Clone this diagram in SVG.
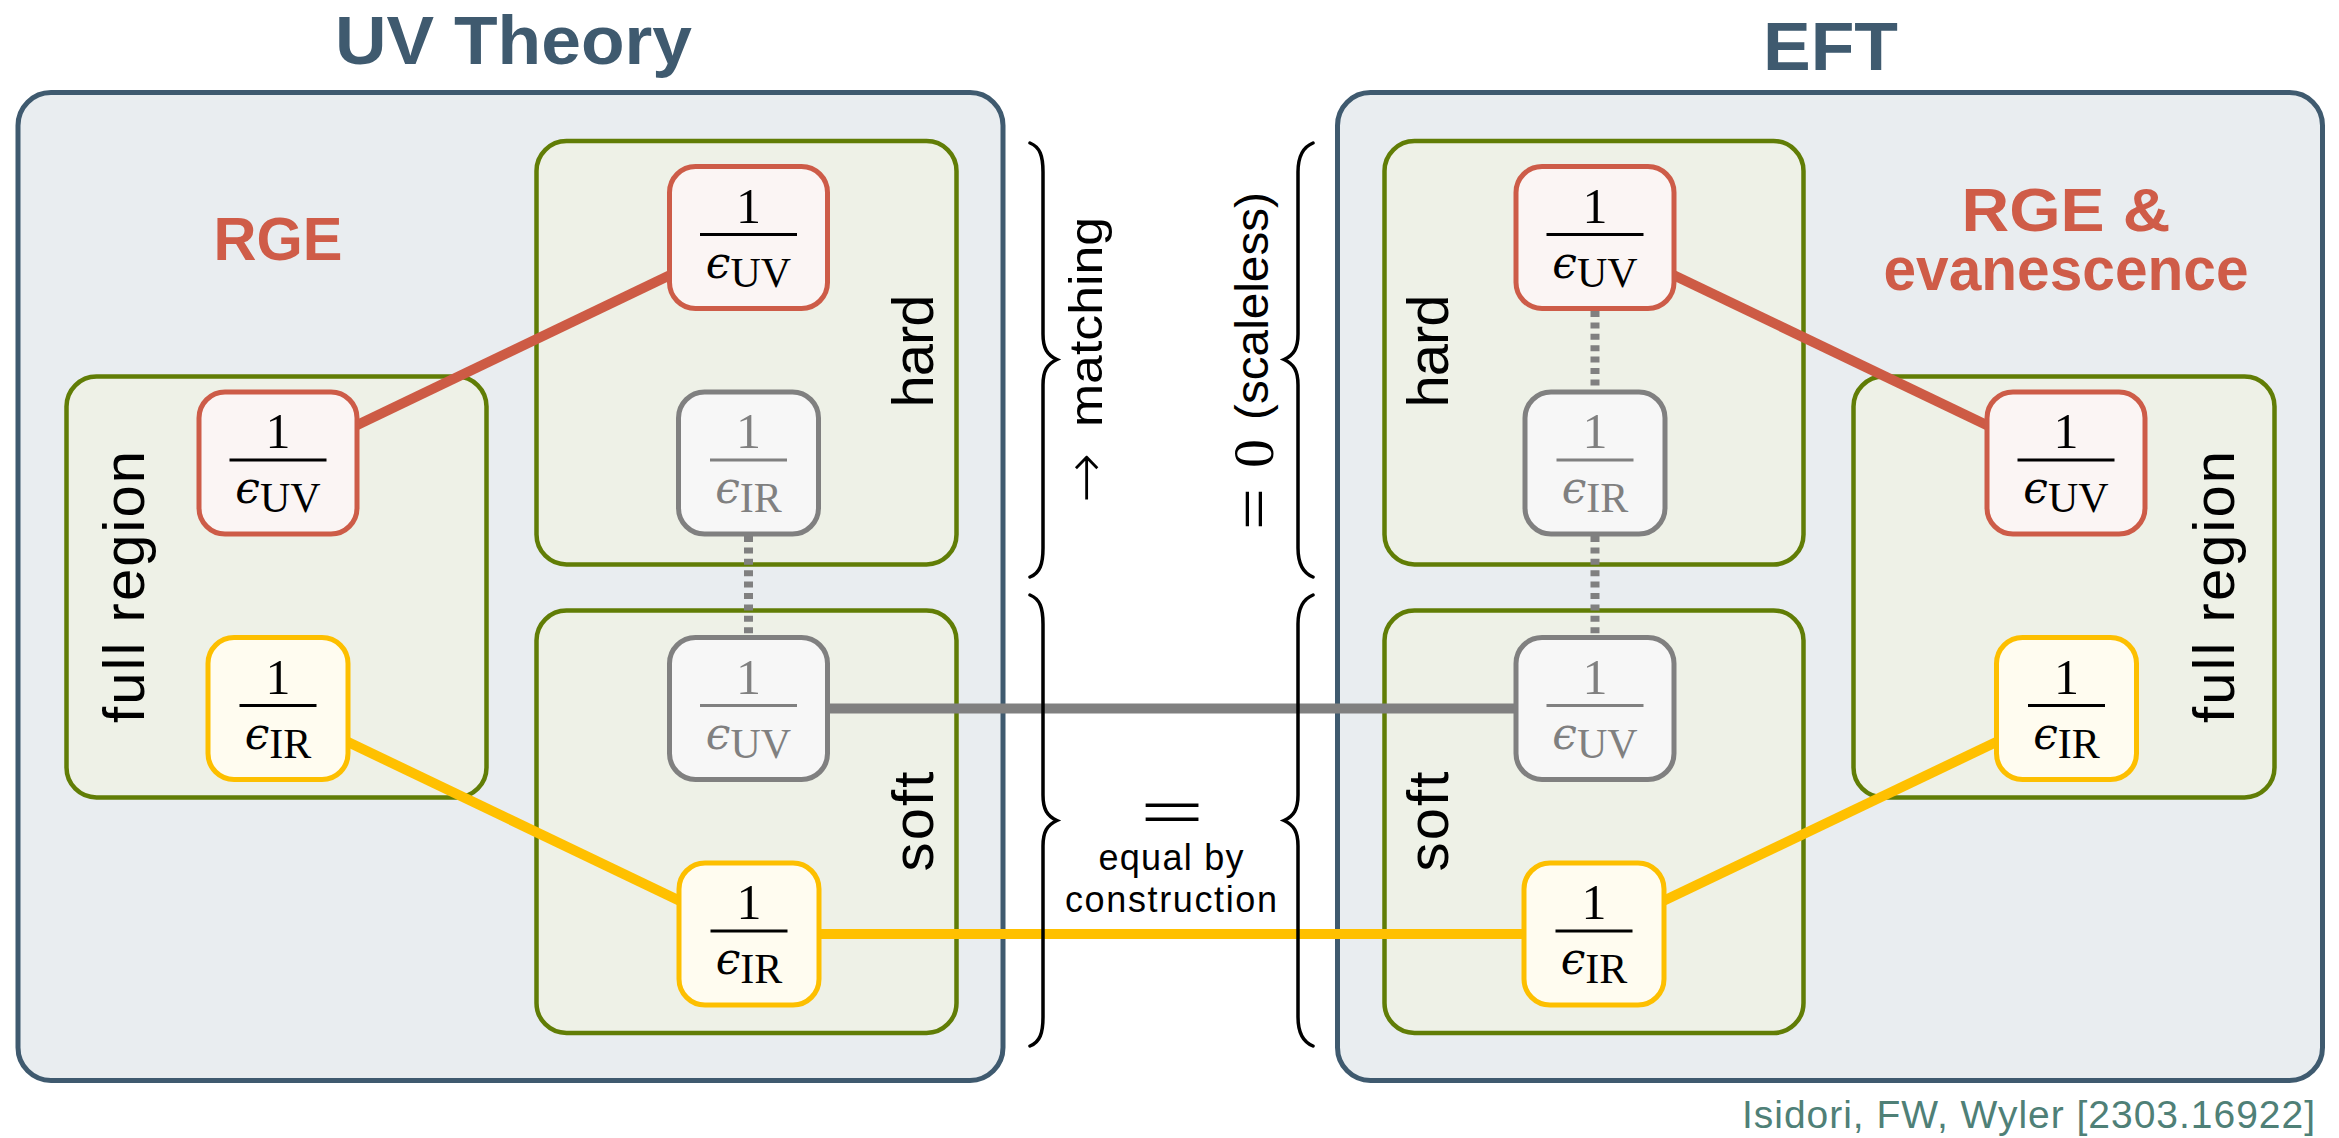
<svg xmlns="http://www.w3.org/2000/svg" width="2339" height="1138" viewBox="0 0 2339 1138">
<style>
.outer{fill:#e9edf0;stroke:#3f5a6f;stroke-width:5}
.region{fill:#eef1e7;stroke:#617d06;stroke-width:4.5}
.nred{fill:#fbf5f4;stroke:#cd5c48;stroke-width:5}
.nyel{fill:#fffcf0;stroke:#fdbf00;stroke-width:5}
.ngray{fill:#f7f7f7;stroke:#808080;stroke-width:5}
.title{font-family:"Liberation Sans",Arial,sans-serif;font-weight:700;font-size:69px;fill:#3f5a6f;text-anchor:middle}
.rge{font-family:"Liberation Sans",Arial,sans-serif;font-weight:700;font-size:62px;fill:#cf5c48;text-anchor:middle}
.lab{font-family:"Liberation Sans",Arial,sans-serif;font-size:58px;fill:#000;text-anchor:middle}
.mid{font-family:"Liberation Sans",Arial,sans-serif;font-size:47px;fill:#000;text-anchor:middle}
.small{font-family:"Liberation Sans",Arial,sans-serif;font-size:36px;fill:#000;text-anchor:middle}
.num{font-family:"Liberation Serif","DejaVu Serif",serif;font-size:50px;text-anchor:middle}
.den{font-family:"Liberation Serif","DejaVu Serif",serif;font-size:42px;text-anchor:middle}
.eps{font-family:"DejaVu Serif",serif;font-style:italic;font-size:44px}
.blk{fill:#000}
.gry{fill:#808080}
.barb{stroke:#000;stroke-width:3}
.barg{stroke:#808080;stroke-width:3}
.cr{stroke:#cd5b45;stroke-width:10;fill:none}
.cy{stroke:#ffc000;stroke-width:10;fill:none}
.cg{stroke:#808080;stroke-width:10;fill:none}
.cd{stroke:#808080;stroke-width:9;fill:none;stroke-dasharray:6 5.4}
.brace{fill:none;stroke:#000;stroke-width:3.5;stroke-linecap:round}
.cite{font-family:"Liberation Sans",Arial,sans-serif;font-size:39px;fill:#4f8077;text-anchor:end}
</style>

<!-- outer containers -->
<g id="uv-theory">
  <rect class="outer" x="18" y="92.5" width="985" height="988" rx="33"/>
  <text class="title" x="513.5" y="64" textLength="357" lengthAdjust="spacingAndGlyphs">UV Theory</text>
  <text class="rge" x="278" y="260" textLength="129" lengthAdjust="spacingAndGlyphs">RGE</text>
</g>
<g id="eft">
  <rect class="outer" x="1337.5" y="92.5" width="985" height="988" rx="33"/>
  <text class="title" x="1830.5" y="70" textLength="135" lengthAdjust="spacingAndGlyphs">EFT</text>
  <text class="rge" x="2066" y="231" textLength="209" lengthAdjust="spacingAndGlyphs">RGE &amp;</text>
  <text class="rge" x="2066" y="290" textLength="365" lengthAdjust="spacingAndGlyphs">evanescence</text>
</g>

<!-- region boxes -->
<g id="uv-full-region">
  <rect class="region" x="66.5" y="376.5" width="420" height="421" rx="30"/>
  <text class="lab" transform="translate(144,587) rotate(-90)" textLength="272">full region</text>
</g>
<g id="uv-hard">
  <rect class="region" x="536.5" y="141" width="420" height="423.5" rx="30"/>
  <text class="lab" transform="translate(933,351) rotate(-90)" textLength="113">hard</text>
</g>
<g id="uv-soft">
  <rect class="region" x="536.5" y="610.5" width="420" height="422.5" rx="30"/>
  <text class="lab" transform="translate(933,821.5) rotate(-90)" textLength="100">soft</text>
</g>
<g id="eft-hard">
  <rect class="region" x="1384.5" y="141" width="419" height="423.5" rx="30"/>
  <text class="lab" transform="translate(1448,351) rotate(-90)" textLength="113">hard</text>
</g>
<g id="eft-soft">
  <rect class="region" x="1384.5" y="610.5" width="419" height="422.5" rx="30"/>
  <text class="lab" transform="translate(1448,821.5) rotate(-90)" textLength="100">soft</text>
</g>
<g id="eft-full-region">
  <rect class="region" x="1853.5" y="376.5" width="421" height="421" rx="30"/>
  <text class="lab" transform="translate(2234,587) rotate(-90)" textLength="272">full region</text>
</g>

<!-- connectors -->
<g id="connectors">
  <line class="cr" x1="278" y1="463" x2="748.5" y2="237.5"/>
  <line class="cy" x1="278" y1="708.5" x2="749" y2="934"/>
  <line class="cr" x1="1595" y1="237.5" x2="2066" y2="463"/>
  <line class="cy" x1="1594" y1="934" x2="2066.5" y2="708.5"/>
  <line class="cg" x1="748.5" y1="708.5" x2="1595" y2="708.5"/>
  <line class="cy" x1="749" y1="934" x2="1594" y2="934"/>
  <line class="cd" x1="748.5" y1="536" x2="748.5" y2="637"/>
  <line class="cd" x1="1595" y1="311" x2="1595" y2="392"/>
  <line class="cd" x1="1595" y1="536" x2="1595" y2="637"/>
</g>

<!-- leaf nodes -->
<g id="uv-full-uv">
  <rect class="nred" x="199" y="392" width="158" height="142" rx="26"/>
  <text class="num blk" x="278" y="448">1</text>
  <line class="barb" x1="229.5" y1="460" x2="326.5" y2="460"/>
  <text class="den blk" x="278" y="503"><tspan class="eps">ϵ</tspan><tspan dy="9">UV</tspan></text>
</g>
<g id="uv-full-ir">
  <rect class="nyel" x="208" y="637.5" width="140" height="142" rx="26"/>
  <text class="num blk" x="278" y="693.5">1</text>
  <line class="barb" x1="239.5" y1="705.5" x2="316.5" y2="705.5"/>
  <text class="den blk" x="278" y="748.5"><tspan class="eps">ϵ</tspan><tspan dy="9">IR</tspan></text>
</g>
<g id="uv-hard-uv">
  <rect class="nred" x="669.5" y="166.5" width="158" height="142" rx="26"/>
  <text class="num blk" x="748.5" y="222.5">1</text>
  <line class="barb" x1="700" y1="234.5" x2="797" y2="234.5"/>
  <text class="den blk" x="748.5" y="277.5"><tspan class="eps">ϵ</tspan><tspan dy="9">UV</tspan></text>
</g>
<g id="uv-hard-ir">
  <rect class="ngray" x="678.5" y="392" width="140" height="142" rx="26"/>
  <text class="num gry" x="748.5" y="448">1</text>
  <line class="barg" x1="710" y1="460" x2="787" y2="460"/>
  <text class="den gry" x="748.5" y="503"><tspan class="eps">ϵ</tspan><tspan dy="9">IR</tspan></text>
</g>
<g id="uv-soft-uv">
  <rect class="ngray" x="669.5" y="637.5" width="158" height="142" rx="26"/>
  <text class="num gry" x="748.5" y="693.5">1</text>
  <line class="barg" x1="700" y1="705.5" x2="797" y2="705.5"/>
  <text class="den gry" x="748.5" y="748.5"><tspan class="eps">ϵ</tspan><tspan dy="9">UV</tspan></text>
</g>
<g id="uv-soft-ir">
  <rect class="nyel" x="679" y="863" width="140" height="142" rx="26"/>
  <text class="num blk" x="749" y="919">1</text>
  <line class="barb" x1="710.5" y1="931" x2="787.5" y2="931"/>
  <text class="den blk" x="749" y="974"><tspan class="eps">ϵ</tspan><tspan dy="9">IR</tspan></text>
</g>
<g id="eft-hard-uv">
  <rect class="nred" x="1516" y="166.5" width="158" height="142" rx="26"/>
  <text class="num blk" x="1595" y="222.5">1</text>
  <line class="barb" x1="1546.5" y1="234.5" x2="1643.5" y2="234.5"/>
  <text class="den blk" x="1595" y="277.5"><tspan class="eps">ϵ</tspan><tspan dy="9">UV</tspan></text>
</g>
<g id="eft-hard-ir">
  <rect class="ngray" x="1525" y="392" width="140" height="142" rx="26"/>
  <text class="num gry" x="1595" y="448">1</text>
  <line class="barg" x1="1556.5" y1="460" x2="1633.5" y2="460"/>
  <text class="den gry" x="1595" y="503"><tspan class="eps">ϵ</tspan><tspan dy="9">IR</tspan></text>
</g>
<g id="eft-soft-uv">
  <rect class="ngray" x="1516" y="637.5" width="158" height="142" rx="26"/>
  <text class="num gry" x="1595" y="693.5">1</text>
  <line class="barg" x1="1546.5" y1="705.5" x2="1643.5" y2="705.5"/>
  <text class="den gry" x="1595" y="748.5"><tspan class="eps">ϵ</tspan><tspan dy="9">UV</tspan></text>
</g>
<g id="eft-soft-ir">
  <rect class="nyel" x="1524" y="863" width="140" height="142" rx="26"/>
  <text class="num blk" x="1594" y="919">1</text>
  <line class="barb" x1="1555.5" y1="931" x2="1632.5" y2="931"/>
  <text class="den blk" x="1594" y="974"><tspan class="eps">ϵ</tspan><tspan dy="9">IR</tspan></text>
</g>
<g id="eft-full-uv">
  <rect class="nred" x="1987" y="392" width="158" height="142" rx="26"/>
  <text class="num blk" x="2066" y="448">1</text>
  <line class="barb" x1="2017.5" y1="460" x2="2114.5" y2="460"/>
  <text class="den blk" x="2066" y="503"><tspan class="eps">ϵ</tspan><tspan dy="9">UV</tspan></text>
</g>
<g id="eft-full-ir">
  <rect class="nyel" x="1996.5" y="637.5" width="140" height="142" rx="26"/>
  <text class="num blk" x="2066.5" y="693.5">1</text>
  <line class="barb" x1="2028" y1="705.5" x2="2105" y2="705.5"/>
  <text class="den blk" x="2066.5" y="748.5"><tspan class="eps">ϵ</tspan><tspan dy="9">IR</tspan></text>
</g>

<!-- braces and annotations -->
<g id="braces">
  <path class="brace" d="M1030,143 C1040,147 1043,156 1043,172 L1043,334 C1043,348 1047,355 1057,359.5 C1047,364 1043,371 1043,385 L1043,548 C1043,564 1040,573 1030,577"/>
  <path class="brace" d="M1313,143 C1303,147 1298,156 1298,172 L1298,334 C1298,348 1294,355 1284,359.5 C1294,364 1298,371 1298,385 L1298,548 C1298,564 1303,573 1313,577"/>
  <path class="brace" d="M1030,595 C1040,599 1043,608 1043,624 L1043,795 C1043,809 1047,816 1057,820.5 C1047,825 1043,832 1043,846 L1043,1017 C1043,1033 1040,1042 1030,1046"/>
  <path class="brace" d="M1313,595 C1303,599 1298,608 1298,624 L1298,795 C1298,809 1294,816 1284,820.5 C1294,825 1298,832 1298,846 L1298,1017 C1298,1033 1303,1042 1313,1046"/>
</g>
<g id="annotations">
  <text transform="translate(1105,478) rotate(-90)" font-family="DejaVu Sans ExtraLight, DejaVu Sans, sans-serif" font-weight="200" font-size="58" text-anchor="middle" textLength="50" lengthAdjust="spacingAndGlyphs">→</text>
  <text class="mid" transform="translate(1102,322) rotate(-90)" textLength="210" lengthAdjust="spacingAndGlyphs">matching</text>
  <text transform="translate(1276,509) rotate(-90)" font-family="Liberation Serif, serif" font-size="66" text-anchor="middle" textLength="42" lengthAdjust="spacingAndGlyphs">=</text>
  <text transform="translate(1273,453.5) rotate(-90)" font-family="Liberation Serif, serif" font-size="58" text-anchor="middle">0</text>
  <text class="mid" transform="translate(1268,306) rotate(-90)" textLength="228" lengthAdjust="spacingAndGlyphs">(scaleless)</text>
  <text x="1172" y="836" font-family="Liberation Serif, serif" font-size="70" text-anchor="middle" textLength="64" lengthAdjust="spacingAndGlyphs">=</text>
  <text class="small" x="1171" y="870" textLength="145">equal by</text>
  <text class="small" x="1171" y="912" textLength="212">construction</text>
  <text class="cite" x="2315" y="1128" textLength="573">Isidori, FW, Wyler [2303.16922]</text>
</g>
</svg>
